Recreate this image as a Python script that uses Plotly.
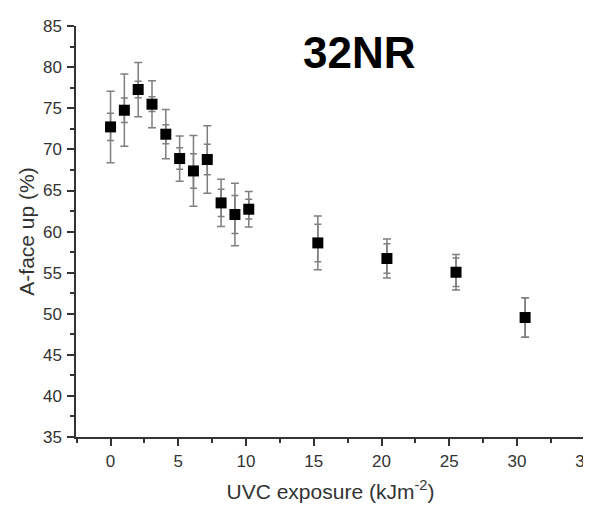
import plotly.graph_objects as go

# UVC dose steps and the A-face-up share
uvc_dose = [0, 1.02, 2.04, 3.06, 4.08, 5.1, 6.12, 7.14, 8.16, 9.18, 10.2,
            15.3, 20.4, 25.5, 30.6]
a_face_up = [72.74, 74.77, 77.29, 75.50, 71.85, 68.89, 67.38, 68.77, 63.49,
             62.08, 62.72, 58.62, 56.72, 55.05, 49.54]
# outer (wide) and inner (narrow) error bars
err_outer = [4.35, 4.4, 3.3, 2.85, 3.0, 2.75, 4.3, 4.1, 2.87, 3.8, 2.15,
             3.28, 2.37, 2.16, 2.4]
err_inner = [1.65, 1.5, 1.0, 0.9, 1.15, 1.3, 2.1, 1.85, 1.65, 2.3, 1.2,
             2.28, 1.8, 1.72, 2.4]

x_ticks = [0, 5, 10, 15, 20, 25, 30, 35]
y_ticks = [35, 40, 45, 50, 55, 60, 65, 70, 75, 80, 85]

FONT = "Arial, Liberation Sans, sans-serif"
BAR_COLOR = "#7f7f7f"
AXIS_COLOR = "#333333"

fig = go.Figure()

# inner error bars first so the markers of the second trace sit on top
fig.add_trace(go.Scatter(
    x=uvc_dose, y=a_face_up, mode="markers",
    marker=dict(size=10, color="rgba(0,0,0,0)"),
    error_y=dict(type="data", array=err_inner, color=BAR_COLOR,
                 thickness=1.5, width=3.5),
    showlegend=False, hoverinfo="skip"))

fig.add_trace(go.Scatter(
    x=uvc_dose, y=a_face_up, mode="markers",
    marker=dict(symbol="square", size=11, color="black"),
    error_y=dict(type="data", array=err_outer, color=BAR_COLOR,
                 thickness=1.5, width=4),
    showlegend=False))

axis_style = dict(
    showline=True, linecolor=AXIS_COLOR, linewidth=1.5,
    ticks="outside", ticklen=7, tickwidth=1.5, tickcolor=AXIS_COLOR,
    showgrid=False, zeroline=False, mirror=False, automargin=False,
    ticklabeloverflow="allow",
    tickfont=dict(family=FONT, size=17, color="#333333"),
)

fig.update_xaxes(
    range=[-2.55, 35.02], tickvals=x_ticks, ticklabelstandoff=1,
    minor=dict(ticks="outside", ticklen=4, tickwidth=1.5,
               tickcolor=AXIS_COLOR, dtick=2.5, tick0=0),
    title=dict(text="UVC exposure (kJm<sup>-2</sup>)", standoff=14,
               font=dict(family=FONT, size=21, color="#333333")),
    **axis_style)

fig.update_yaxes(
    range=[35, 85.02], tickvals=y_ticks, ticklabelstandoff=2,
    minor=dict(ticks="outside", ticklen=4, tickwidth=1.5,
               tickcolor=AXIS_COLOR, dtick=2.5, tick0=35),
    title=dict(text="A-face up (%)", standoff=3,
               font=dict(family=FONT, size=21, color="#333333")),
    **axis_style)

fig.add_annotation(
    text="<b>32NR</b>", xref="paper", yref="paper", x=0.556, y=0.936,
    xanchor="center", yanchor="middle", showarrow=False,
    font=dict(family=FONT, size=44, color="black"))

# the page body keeps its 8px margin, so the figure is 8px smaller
fig.update_layout(
    width=583, height=501,
    margin=dict(l=68, r=6, t=18, b=72),
    plot_bgcolor="white", paper_bgcolor="white",
    font=dict(family=FONT),
)

fig.write_html("out.html")
